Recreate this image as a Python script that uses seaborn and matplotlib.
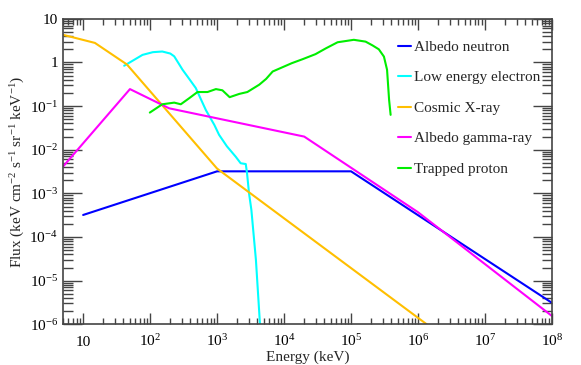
import matplotlib
matplotlib.use("Agg")
import matplotlib.pyplot as plt
import numpy as np
import pandas as pd
import seaborn as sns
from matplotlib.ticker import FixedLocator, FuncFormatter, LogLocator, NullFormatter

# values (energy in keV, flux in keV cm^-2 s^-1 sr^-1 keV^-1)
neutron_e = [10, 1e3, 1e5, 1e8]
neutron_f = [3.2e-4, 3.2e-3, 3.2e-3, 3.1e-6]

electron_e = [41, 77, 110, 152, 200, 229, 275, 305, 360, 480, 680, 910, 1070,
              1400, 1900, 2250, 2680, 2800, 3000, 3250, 3800, 4370]
electron_f = [0.84, 1.49, 1.72, 1.78, 1.6, 1.38, 0.88, 0.68, 0.48, 0.26, 0.081,
              0.037, 0.022, 0.012, 6.9e-3, 4.9e-3, 4.7e-3, 2.9e-3, 1.0e-3,
              4.2e-4, 3e-5, 1e-6]

xray_e = [5, 15, 45, 1e3, 1.35e6]
xray_f = [4.3, 2.8, 0.9, 3.7e-3, 1e-6]

gamma_e = [5, 50, 192, 2e4, 1e6, 1e8]
gamma_f = [4.1e-3, 0.245, 0.089, 0.02, 3.7e-4, 1.55e-6]

proton_e = [99, 152, 229, 287, 380, 510, 720, 960, 1200, 1540, 2140, 2830,
            4270, 5400, 6760, 1.3e4, 1.9e4, 2.95e4, 4.2e4, 6.3e4, 1.1e5,
            1.65e5, 2.1e5, 2.6e5, 3.1e5, 3.45e5, 3.7e5, 3.9e5]
proton_f = [0.071, 0.11, 0.12, 0.11, 0.15, 0.21, 0.21, 0.245, 0.23, 0.16, 0.19,
            0.21, 0.31, 0.42, 0.62, 0.96, 1.19, 1.55, 2.1, 2.9, 3.3, 3.0, 2.45,
            2.0, 1.36, 0.68, 0.14, 0.063]

series_names = ["Albedo neutron", "Low energy electron", "Cosmic X-ray",
                "Albedo gamma-ray", "Trapped proton"]
series_colors = ["#0000ff", "#00ffff", "#ffbf00", "#ff00ff", "#00ee00"]

x_decades = [1e1, 1e2, 1e3, 1e4, 1e5, 1e6, 1e7, 1e8]
y_decades = [1e-6, 1e-5, 1e-4, 1e-3, 1e-2, 1e-1, 1, 10]


def build_frame():
    parts = []
    for name, e, f in zip(series_names,
                          [neutron_e, electron_e, xray_e, gamma_e, proton_e],
                          [neutron_f, electron_f, xray_f, gamma_f, proton_f]):
        parts.append(pd.DataFrame({"energy": e, "flux": f, "source": name}))
    return pd.concat(parts, ignore_index=True)


def decade_label(v, pos):
    n = int(round(np.log10(v)))
    if n == 0:
        return "1"
    if n == 1:
        return "10"
    return r"$10^{%d}$" % n


sns.set_style("ticks")
plt.rcParams["font.family"] = ["Liberation Serif", "DejaVu Serif"]
plt.rcParams["mathtext.default"] = "regular"
plt.rcParams["font.size"] = 11
plt.rcParams["axes.unicode_minus"] = True

df = build_frame()

fig = plt.figure(figsize=(5.81, 3.65), dpi=100)
ax = fig.add_axes([0.1084, 0.1115, 0.8416, 0.8370])

sns.lineplot(data=df, x="energy", y="flux", hue="source", hue_order=series_names,
             palette=dict(zip(series_names, series_colors)), sort=False,
             estimator=None, linewidth=1.5, ax=ax)

ax.set_xscale("log")
ax.set_yscale("log")
ax.set_xlim(5, 1e8)
ax.set_ylim(1e-6, 10)

for axis, majors in ((ax.xaxis, x_decades), (ax.yaxis, y_decades)):
    axis.set_major_locator(FixedLocator(majors))
    axis.set_minor_locator(LogLocator(base=10, subs=np.arange(2, 10), numticks=20))
    axis.set_major_formatter(FuncFormatter(decade_label))
    axis.set_minor_formatter(NullFormatter())

frame_color = "#444444"
for sp in ax.spines.values():
    sp.set_visible(True)
    sp.set_color(frame_color)
    sp.set_linewidth(1.2)

ax.tick_params(which="both", direction="in", top=True, right=True,
               color=frame_color, labelsize=11, labelcolor="black")
ax.tick_params(axis="x", which="major", length=8, width=1, pad=15.5)
ax.tick_params(axis="x", which="minor", length=4, width=1)
ax.tick_params(axis="y", which="major", length=14, width=1)
ax.tick_params(axis="y", which="minor", length=7, width=1)

# keep "10" and "10^n" on one baseline
for lbl in ax.get_xticklabels():
    lbl.set_verticalalignment("baseline")

ax.set_xlabel("Energy (keV)", fontsize=11, labelpad=1)
ax.set_ylabel("Flux (keV cm$^{-2}$ s$^{-1}$ sr$^{-1}$ keV$^{-1}$)", fontsize=11,
              labelpad=2)

handles, labels = ax.get_legend_handles_labels()
ax.legend(handles, labels, loc="upper left", bbox_to_anchor=(0.685, 0.93),
          frameon=False, borderpad=0, borderaxespad=0, handlelength=0.85,
          handletextpad=0.2, labelspacing=1.1, fontsize=11)

fig.savefig("out.png", dpi=100)
